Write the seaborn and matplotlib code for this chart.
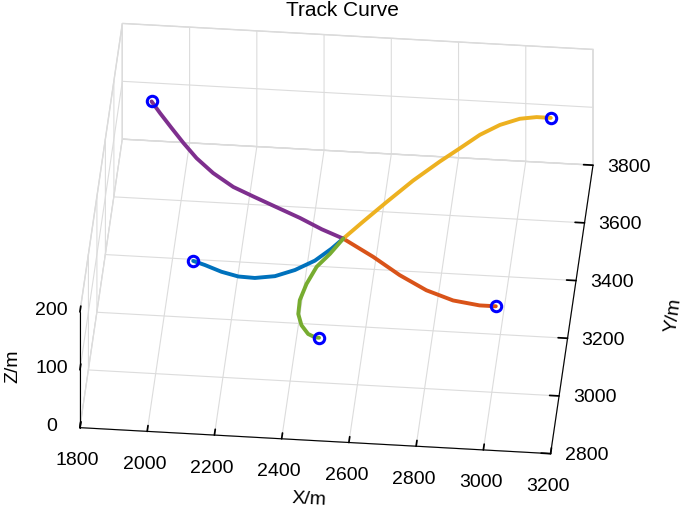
import matplotlib
matplotlib.use("Agg")
import matplotlib.pyplot as plt
import seaborn as sns

sns.set_theme(style="white")
plt.rcParams['font.family'] = ['Liberation Sans', 'DejaVu Sans']

# Track points in metres; the first point of each list is the circled start
PURPLE_X = [1910, 1939, 1978, 2018, 2062, 2116, 2180, 2242, 2308, 2386, 2454, 2520]
PURPLE_Y = [3617, 3589, 3551, 3512, 3474, 3436, 3404, 3385, 3367, 3342, 3319, 3301]
PURPLE_Z = [160, 154.5, 149, 144, 138, 133, 127, 122, 116, 111, 105, 100]

YELLOW_X = [3090, 3047, 2997, 2940, 2884, 2830, 2776, 2704, 2634, 2572, 2520]
YELLOW_Y = [3676, 3684, 3683, 3666, 3636, 3594, 3553, 3490, 3419, 3355, 3301]
YELLOW_Z = [140, 136, 132, 128, 124, 120, 116, 112, 108, 104, 100]

BLUE_X = [2092, 2128, 2179, 2230, 2279, 2337, 2393, 2447, 2490, 2520]
BLUE_Y = [3156, 3148, 3133, 3125, 3127, 3141, 3170, 3212, 3260, 3301]
BLUE_Z = [120, 118, 115.5, 113, 111, 109, 107, 104, 102, 100]

GREEN_X = [2479, 2468, 2448, 2426, 2413, 2413, 2427, 2451, 2486, 2520]
GREEN_Y = [3055, 3045, 3044, 3061, 3089, 3125, 3172, 3221, 3258, 3301]
GREEN_Z = [50, 55.5, 61, 67, 72, 78, 83, 89, 94, 100]

ORANGE_X = [2992, 2945, 2866, 2784, 2700, 2615, 2520]
ORANGE_Y = [3157, 3147, 3149, 3169, 3206, 3254, 3301]
ORANGE_Z = [70, 75, 80, 85, 90, 95, 100]

X_TICKS = [1800, 2000, 2200, 2400, 2600, 2800, 3000, 3200]
Y_TICKS = [2800, 3000, 3200, 3400, 3600, 3800]
Z_TICKS = [0, 100, 200]

TRACKS = [
    (BLUE_X, BLUE_Y, BLUE_Z, '#0072BD'),
    (ORANGE_X, ORANGE_Y, ORANGE_Z, '#D95319'),
    (YELLOW_X, YELLOW_Y, YELLOW_Z, '#EDB120'),
    (PURPLE_X, PURPLE_Y, PURPLE_Z, '#7E2F8E'),
    (GREEN_X, GREEN_Y, GREEN_Z, '#77AC30'),
]

fig = plt.figure(figsize=(6.85, 5.07), dpi=100)
ax = fig.add_axes([-0.0188, 0.016, 1.0, 1.0], projection='3d', computed_zorder=False)
ax.set_proj_type('ortho')
ax.view_init(elev=37.8, azim=-84.85)
ax.set_box_aspect((1, 1, 0.31), zoom=1.31)

for xs, ys, zs, col in TRACKS:
    ax.plot(xs, ys, zs, color=col, linewidth=2.8, solid_capstyle='round',
            solid_joinstyle='round', zorder=3)
for xs, ys, zs, col in TRACKS:
    ax.plot([xs[0]], [ys[0]], [zs[0]], 'o', markersize=7.5, markeredgewidth=2.2,
            markerfacecolor='none', markeredgecolor='blue', zorder=4)

ax.set_xlim(1800, 3200)
ax.set_ylim(2800, 3800)
ax.set_zlim(0, 200)
ax.set_xticks(X_TICKS)
ax.set_yticks(Y_TICKS)
ax.set_zticks(Z_TICKS)

for axis in (ax.xaxis, ax.yaxis, ax.zaxis):
    axis.set_pane_color((1, 1, 1, 1))
    axis.pane.set_edgecolor('#d6d6d6')
    axis.line.set_color('black')
    axis.line.set_linewidth(0.8)
    axis._axinfo['grid'].update(color='#dcdcdc', linewidth=0.8)
    axis._axinfo['tick'].update(inward_factor=0.0, outward_factor=0.25)
    axis.set_rotate_label(True)

# MATLAB-like placement: z axis on the front-left edge, y/z labels pushed
# sideways only (not down)
ax.zaxis.set_ticks_position('lower')
ax.zaxis.set_label_position('lower')
ax.zaxis._axmask = lambda: [True, False, False]
ax.yaxis._axmask = lambda: [True, False, False]

ax.tick_params(colors='black', labelsize=14)
ax.tick_params(axis='y', pad=6.5)
for lab in ax.get_yticklabels() + ax.get_zticklabels():
    lab.set_verticalalignment('center')

ax.set_xlabel('X/m', fontsize=14, color='black', labelpad=6.5)
ax.set_ylabel('Y/m', fontsize=14, color='black', labelpad=20)
ax.set_zlabel('Z/m', fontsize=14, color='black', labelpad=6)
# y label reads upwards along the y axis, as in the original
ax.yaxis.set_rotate_label(False)
ax.yaxis.label.set_rotation(82)

fig.text(0.5, 1 - 10 / 507, 'Track Curve', ha='center', va='center',
         fontsize=15, color='black')

fig.savefig('out.png', dpi=100)
